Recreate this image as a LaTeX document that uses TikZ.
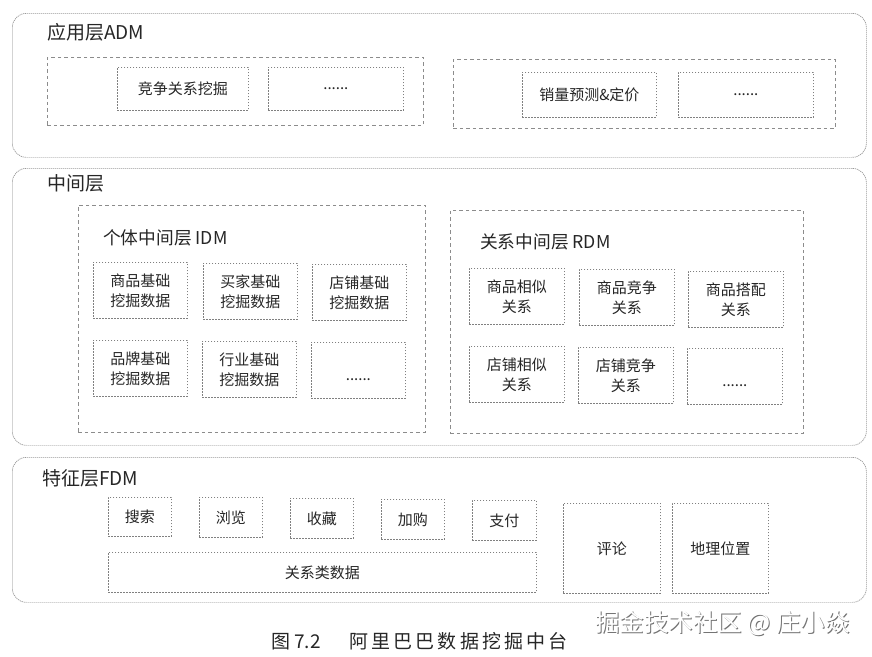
\documentclass[tikz,border=0pt]{standalone}
\usepackage{fontspec}
\setmainfont{Noto Sans CJK SC}
\begin{document}
\begin{tikzpicture}[x=1pt,y=-1pt,
  outer/.style={draw=black!40, dash pattern=on 1.2pt off 0.8pt, rounded corners=14pt, line width=0.7pt, inner sep=0pt, anchor=north west},
  group/.style={draw=black!45, dash pattern=on 3.5pt off 3pt, line width=0.7pt, inner sep=0pt, anchor=north west},
  cell/.style={draw=black!50, dash pattern=on 1.8pt off 1.2pt, line width=0.7pt, align=center, inner sep=0pt, anchor=north west,
    font=\fontsize{15}{20}\selectfont, text=black!85},
  ttl/.style={anchor=west, inner sep=0pt, font=\fontsize{19}{22}\selectfont, text=black!85},
  sub/.style={anchor=west, inner sep=0pt, font=\fontsize{17.7}{21}\selectfont, text=black!85}]
\newcommand\bx[7]{\node[#1, minimum width={#5pt-#3pt}, minimum height={#6pt-#4pt}] (#2) at (#3,#4) {#7};}
\useasboundingbox (0,0) rectangle (872,656);
\fill[white] (0,0) rectangle (872,656);

% ---------- application layer
\bx{outer}{adm}{12}{13}{866}{157}{}
\node[ttl] (admt) at (47,32) {应用层ADM};
\bx{group}{admL}{47}{57}{423}{125}{}
\bx{group}{admR}{453}{59}{835}{128}{}
\bx{cell}{a1}{117}{67}{248}{110}{竞争关系挖掘}
\bx{cell}{a2}{268}{67}{403}{110}{......}
\bx{cell}{a3}{522}{72}{656}{117}{销量预测\&定价}
\bx{cell}{a4}{678}{72}{813}{117}{......}

% ---------- middle layer
\bx{outer}{mid}{12}{168}{866}{445}{}
\node[ttl] (midt) at (47,183) {中间层};
\bx{group}{idm}{78}{205}{425}{432}{}
\node[sub] (idmt) at (103,238) {个体中间层 IDM};
\bx{cell}{i1}{93}{262}{187}{318}{商品基础\\挖掘数据}
\bx{cell}{i2}{203}{263}{297}{319}{买家基础\\挖掘数据}
\bx{cell}{i3}{312}{264}{406}{320}{店铺基础\\挖掘数据}
\bx{cell}{i4}{93}{340}{187}{396}{品牌基础\\挖掘数据}
\bx{cell}{i5}{202}{341}{296}{397}{行业基础\\挖掘数据}
\bx{cell}{i6}{311}{342}{405}{398}{\\......}

\bx{group}{rdm}{450}{210}{803}{433}{}
\node[sub] (rdmt) at (480,242) {关系中间层 RDM};
\bx{cell}{r1}{469}{268}{564}{324}{商品相似\\关系}
\bx{cell}{r2}{579}{269}{674}{325}{商品竞争\\关系}
\bx{cell}{r3}{688}{271}{783}{327}{商品搭配\\关系}
\bx{cell}{r4}{469}{346}{564}{402}{店铺相似\\关系}
\bx{cell}{r5}{578}{347}{673}{403}{店铺竞争\\关系}
\bx{cell}{r6}{687}{348}{782}{404}{\\......}

% ---------- feature layer
\bx{outer}{fdm}{12}{457}{866}{602}{}
\node[ttl] (fdmt) at (42,478) {特征层FDM};
\bx{cell}{f1}{108}{497}{171}{536}{搜索}
\bx{cell}{f2}{199}{497}{262}{537}{浏览}
\bx{cell}{f3}{290}{498}{353}{538}{收藏}
\bx{cell}{f4}{381}{499}{444}{539}{加购}
\bx{cell}{f5}{472}{500}{536}{540}{支付}
\bx{cell}{f6}{108}{552}{536}{592}{关系类数据}
\bx{cell}{f7}{563}{503}{660}{593}{评论}
\bx{cell}{f8}{672}{503}{768}{593}{地理位置}

% ---------- caption and watermark
\node[inner sep=0pt, anchor=west, font=\fontsize{19}{22}\selectfont, text=black!85] (cap) at (271,641) {图 7.2\hspace{1.5em}阿\,里\,巴\,巴\,数\,据\,挖\,掘\,中\,台};
\node[inner sep=0pt, anchor=west, font=\fontsize{24.5}{28}\selectfont, text=black!55] (wms) at (595.8,623.8) {掘金技术社区 @ 庄小焱};
\node[inner sep=0pt, anchor=west, font=\fontsize{24.5}{28}\selectfont, text=white] (wm) at (595,623) {掘金技术社区 @ 庄小焱};
\end{tikzpicture}
\end{document}
